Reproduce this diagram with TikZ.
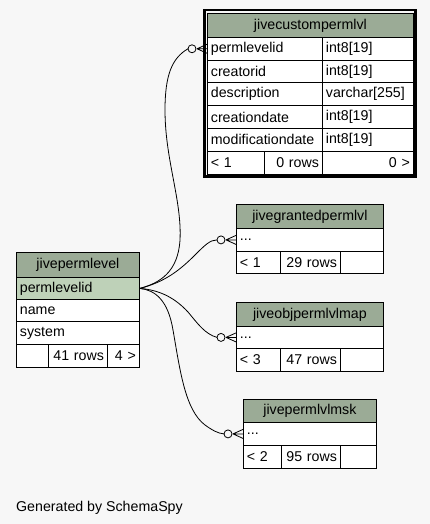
\documentclass[tikz,border=0pt]{standalone}
\usepackage{fontspec}
\setmainfont{Liberation Sans}
\usetikzlibrary{calc}
\definecolor{bgc}{HTML}{F7F7F7}
\definecolor{hdr}{HTML}{9BAB96}
\definecolor{pk}{HTML}{BED1B8}
% name, x1, y1, x2, y2, align, fill, text
\newcommand\tcell[8]{\pgfmathsetmacro\cw{#4-#2-7}\pgfmathsetmacro\ch{#5-#3}%
  \node[tcellsty, fill=#7, text width=\cw pt, minimum height=\ch pt, align=#6] (#1) at (#2,#3) {#8};}
% circle coordinate, target node
\newcommand\crowfoot[2]{%
  \draw[edge] (#1) circle[radius=4pt];
  \draw[edge] ($(#1)+(5,0)$) -- (#2.west)
              ($(#1)+(5,0)$) -- ($(#2.west)+(0,-4.5)$)
              ($(#1)+(5,0)$) -- ($(#2.west)+(0,4.5)$);}
\begin{document}
\begin{tikzpicture}[x=1pt,y=-1pt,
  tcellsty/.style={draw=black, line width=0.8pt, anchor=north west, inner xsep=3.5pt, inner ysep=0pt, font=\fontsize{14.2}{16}\selectfont},
  edge/.style={draw=black, line width=0.8pt},
  footnote/.style={anchor=base west, inner sep=0pt, font=\fontsize{14.2}{16}\selectfont}]
\fill[bgc] (0,0) rectangle (430,524);
\useasboundingbox (0,0) rectangle (430,524);

% jivecustompermlvl
\tcell{cph}{207}{13}{413}{37}{center}{hdr}{jivecustompermlvl}
\tcell{cp1}{207}{37}{322}{59.75}{left}{white}{permlevelid}
\tcell{cp1t}{322}{37}{413}{59.75}{left}{white}{int8[19]}
\tcell{cp2}{207}{59.75}{322}{82.5}{left}{white}{creatorid}
\tcell{cp2t}{322}{59.75}{413}{82.5}{left}{white}{int8[19]}
\tcell{cp3}{207}{82.5}{322}{105.25}{left}{white}{description}
\tcell{cp3t}{322}{82.5}{413}{105.25}{left}{white}{varchar[255]}
\tcell{cp4}{207}{105.25}{322}{128}{left}{white}{creationdate}
\tcell{cp4t}{322}{105.25}{413}{128}{left}{white}{int8[19]}
\tcell{cp5}{207}{128}{322}{150.75}{left}{white}{modificationdate}
\tcell{cp5t}{322}{128}{413}{150.75}{left}{white}{int8[19]}
\tcell{cpf1}{207}{150.75}{264}{173.5}{left}{white}{< 1}
\tcell{cpf2}{264}{150.75}{322}{173.5}{right}{white}{0 rows}
\tcell{cpf3}{322}{150.75}{413}{173.5}{right}{white}{0 >}
\draw[line width=2.5pt] (204.5,10) rectangle (415.5,176.5);

% jivegrantedpermlvl
\tcell{gph}{236}{204}{383}{228}{center}{hdr}{jivegrantedpermlvl}
\tcell{gp1}{236}{228}{383}{251}{left}{white}{...}
\tcell{gpf1}{236}{251}{280}{273}{left}{white}{< 1}
\tcell{gpf2}{280}{251}{340}{273}{right}{white}{29 rows}
\tcell{gpf3}{340}{251}{383}{273}{right}{white}{}

% jiveobjpermlvlmap
\tcell{oph}{236}{302}{383}{326}{center}{hdr}{jiveobjpermlvlmap}
\tcell{op1}{236}{326}{383}{348}{left}{white}{...}
\tcell{opf1}{236}{348}{280}{371}{left}{white}{< 3}
\tcell{opf2}{280}{348}{340}{371}{right}{white}{47 rows}
\tcell{opf3}{340}{348}{383}{371}{right}{white}{}

% jivepermlvlmsk
\tcell{mkh}{243}{399}{376}{422}{center}{hdr}{jivepermlvlmsk}
\tcell{mk1}{243}{422}{376}{445}{left}{white}{...}
\tcell{mkf1}{243}{445}{281}{468}{left}{white}{< 2}
\tcell{mkf2}{281}{445}{340}{468}{right}{white}{95 rows}
\tcell{mkf3}{340}{445}{376}{468}{right}{white}{}

% jivepermlevel
\tcell{plh}{16}{252}{139}{277}{center}{hdr}{jivepermlevel}
\tcell{pl1}{16}{277}{139}{299}{left}{pk}{permlevelid}
\tcell{pl2}{16}{299}{139}{321}{left}{white}{name}
\tcell{pl3}{16}{321}{139}{344}{left}{white}{system}
\tcell{plf1}{16}{344}{48}{367}{left}{white}{}
\tcell{plf2}{48}{344}{107}{367}{right}{white}{41 rows}
\tcell{plf3}{107}{344}{139}{367}{right}{white}{4 >}

% connectors
\coordinate (o1) at ($(cp1.west)+(-15,0)$);
\coordinate (o2) at ($(gp1.west)+(-15,0)$);
\coordinate (o3) at ($(op1.west)+(-15,0)$);
\coordinate (o4) at ($(mk1.west)+(-15,0)$);
\coordinate (e1) at ($(o1)+(-4,0)$);
\coordinate (e2) at ($(o2)+(-4,0)$);
\coordinate (e3) at ($(o3)+(-4,0)$);
\coordinate (e4) at ($(o4)+(-4,0)$);

\draw[edge] (pl1.east) .. controls (160,283) and (178,272) .. (180,240)
  .. controls (182,200) and (165,160) .. (165,110)
  .. controls (165,75) and (172,58) .. (e1);
\draw[edge] (pl1.east) .. controls (165,282) and (180,270) .. (195,255)
  .. controls (205,245) and (210,240) .. (e2);
\draw[edge] (pl1.east) .. controls (160,290) and (175,298) .. (188,312)
  .. controls (198,324) and (205,334) .. (e3);
\draw[edge] (pl1.east) .. controls (155,290) and (168,300) .. (173,330)
  .. controls (180,370) and (185,410) .. (205,425)
  .. controls (212,430) and (218,433.5) .. (e4);

\crowfoot{o1}{cp1}
\crowfoot{o2}{gp1}
\crowfoot{o3}{op1}
\crowfoot{o4}{mk1}

\node[footnote] (gen) at (16,511.5) {Generated by SchemaSpy};
\end{tikzpicture}
\end{document}
